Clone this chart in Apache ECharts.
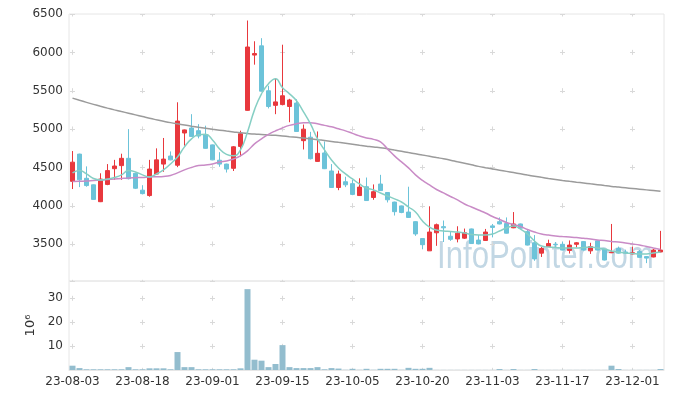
<!DOCTYPE html>
<html>
<head>
<meta charset="utf-8">
<script src="https://cdn.jsdelivr.net/npm/echarts@6/dist/echarts.min.js"></script>
<style>
  html, body { margin: 0; padding: 0; background: #fff; }
  #chart { width: 673px; height: 399px; }
</style>
</head>
<body>
<div id="chart"></div>
<script>
// 일자
var dates = [
    '23-08-03','23-08-04','23-08-07','23-08-08','23-08-09','23-08-10','23-08-11','23-08-14','23-08-16','23-08-17',
    '23-08-18','23-08-21','23-08-22','23-08-23','23-08-24','23-08-25','23-08-28','23-08-29','23-08-30','23-08-31',
    '23-09-01','23-09-04','23-09-05','23-09-06','23-09-07','23-09-08','23-09-11','23-09-12','23-09-13','23-09-14',
    '23-09-15','23-09-18','23-09-19','23-09-20','23-09-21','23-09-22','23-09-25','23-09-26','23-09-27','23-10-04',
    '23-10-05','23-10-06','23-10-10','23-10-11','23-10-12','23-10-13','23-10-16','23-10-17','23-10-18','23-10-19',
    '23-10-20','23-10-23','23-10-24','23-10-25','23-10-26','23-10-27','23-10-30','23-10-31','23-11-01','23-11-02',
    '23-11-03','23-11-06','23-11-07','23-11-08','23-11-09','23-11-10','23-11-13','23-11-14','23-11-15','23-11-16',
    '23-11-17','23-11-20','23-11-21','23-11-22','23-11-23','23-11-24','23-11-27','23-11-28','23-11-29','23-11-30',
    '23-12-01','23-12-04','23-12-05','23-12-06','23-12-07'
];

// 시가 / 종가 / 저가 / 고가
var opens = [
    4320,4675,4360,4275,4055,4280,4485,4525,4620,4425,
    4205,4135,4415,4545,4650,4530,4950,5015,4980,4930,
    4795,4595,4545,4490,4775,5245,5965,6085,5500,5310,
    5320,5295,5340,4850,4895,4580,4690,4455,4240,4315,
    4290,4135,4250,4110,4285,4175,4050,4000,3920,3795,
    3575,3415,3650,3730,3605,3570,3580,3700,3555,3550,
    3740,3795,3770,3715,3765,3665,3520,3385,3470,3500,
    3500,3420,3500,3535,3415,3545,3435,3390,3445,3400,
    3375,3405,3340,3335,3400
];
var closes = [
    4570,4340,4265,4085,4350,4460,4520,4620,4355,4230,
    4160,4480,4600,4610,4600,5105,4990,4905,4910,4750,
    4600,4545,4480,4770,4940,6070,5985,5495,5295,5355,
    5435,5380,4970,5000,4615,4685,4485,4240,4415,4275,
    4150,4245,4070,4185,4200,4080,3925,3915,3850,3635,
    3495,3660,3755,3715,3565,3645,3650,3510,3505,3660,
    3720,3765,3645,3765,3710,3490,3310,3445,3510,3495,
    3425,3490,3520,3425,3470,3425,3295,3400,3385,3385,
    3390,3330,3320,3425,3425
];
var lows = [
    4220,4245,4250,4080,4050,4270,4340,4340,4345,4220,
    4150,4120,4410,4445,4595,4505,4785,4900,4880,4745,
    4595,4510,4435,4455,4645,5240,5840,5490,5270,5195,
    5310,5090,4965,4735,4605,4575,4480,4235,4205,4245,
    4140,4130,4065,4080,4195,4045,3875,3905,3845,3610,
    3435,3415,3480,3530,3545,3525,3570,3505,3500,3545,
    3590,3760,3640,3710,3700,3485,3285,3335,3465,3450,
    3420,3380,3460,3420,3375,3420,3290,3385,3380,3375,
    3370,3325,3255,3330,3395
];
var highs = [
    4715,4680,4515,4280,4425,4545,4600,4680,5000,4430,
    4270,4600,4750,4885,4710,5350,4995,5195,5065,5045,
    4800,4700,4550,4780,4980,6415,6145,6185,5565,5660,
    6100,5395,5390,5060,4965,4970,4840,4545,4460,4380,
    4340,4360,4370,4280,4405,4180,4055,4005,4250,3800,
    3580,3995,3770,3810,3660,3735,3705,3705,3620,3700,
    3765,3850,3850,3920,3770,3695,3620,3465,3560,3530,
    3535,3550,3530,3540,3520,3550,3440,3765,3470,3430,
    3470,3425,3345,3440,3675
];

// 이동평균선
var ma5 = [
    4430,4462,4417,4358,4338,4351,4371,4404,4462,4443,
    4404,4378,4417,4469,4547,4638,4769,4873,4926,4932,
    4860,4743,4671,4652,4730,4964,5251,5460,5591,5656,
    5539,5460,5369,5225,5069,4873,4730,4599,4495,4417,
    4351,4286,4234,4208,4169,4130,4091,4051,3986,3921,
    3804,3725,3686,3673,3667,3660,3647,3627,3621,3621,
    3634,3673,3712,3738,3699,3634,3543,3477,3464,3458,
    3451,3451,3451,3458,3464,3451,3438,3412,3399,3386,
    3380,3373,3373,3386,3399
];
var ma20 = [
    4319,4322,4325,4332,4338,4345,4351,4358,4364,4368,
    4371,4378,4380,4384,4397,4430,4469,4501,4527,4534,
    4547,4573,4586,4612,4652,4717,4808,4873,4932,4978,
    5017,5049,5069,5082,5082,5069,5049,5030,5004,4978,
    4945,4912,4886,4867,4834,4743,4652,4573,4495,4404,
    4332,4273,4214,4169,4123,4078,4025,3986,3947,3908,
    3862,3823,3784,3758,3732,3693,3660,3634,3621,3608,
    3601,3595,3588,3578,3569,3556,3549,3536,3530,3517,
    3504,3491,3471,3451,3432
];
var ma120 = [
    5404,5376,5349,5323,5298,5274,5251,5229,5208,5186,
    5164,5142,5122,5103,5085,5069,5054,5039,5025,5012,
    4999,4987,4975,4964,4953,4944,4936,4930,4924,4919,
    4911,4902,4893,4884,4874,4863,4852,4840,4828,4816,
    4803,4790,4778,4766,4759,4744,4728,4712,4695,4679,
    4663,4647,4630,4614,4596,4575,4555,4535,4515,4498,
    4482,4466,4450,4434,4418,4402,4387,4372,4358,4345,
    4332,4320,4309,4299,4288,4277,4265,4254,4245,4236,
    4227,4218,4209,4200,4191
];

// 거래량 (10^6)
var volumes = [
    1.8,0.8,0.3,0.3,0.3,0.3,0.3,0.3,1.2,0.3,
    0.3,0.7,0.7,0.7,0.3,7.5,1.2,1.2,0.3,0.3,
    0.3,0.3,0.3,0.3,0.7,33.8,4.3,3.9,1.2,2.5,
    10.4,1.2,0.8,0.8,0.8,1.2,0.3,0.8,0.6,0.1,
    0.5,0.1,0.5,0.1,0.5,0.5,0.5,0.1,0.9,0.5,
    0.5,0.9,0.05,0.05,0.05,0.05,0.05,0.05,0.05,0.05,
    0.05,0.4,0.05,0.4,0.05,0.05,0.4,0.05,0.05,0.05,
    0.05,0.05,0.05,0.05,0.05,0.05,0.05,1.8,0.4,0.05,
    0.05,0.05,0.05,0.05,0.4
];

var candles = [];
for (var i = 0; i < dates.length; i++) {
    candles.push([opens[i], closes[i], lows[i], highs[i]]);
}

var labelStyle = {
    color: '#333',
    fontSize: 12,
    fontFamily: 'DejaVu Sans'
};
var crossColor = '#d9d9d9';
var plainNumber = function (v) { return String(v); };

var option = {
    backgroundColor: '#fff',
    animation: false,
    grid: [
        { left: 69, right: 9, top: 14, height: 267, show: true, borderColor: '#e6e6e6', borderWidth: 1 },
        { left: 69, right: 9, top: 281, height: 89, show: true, borderColor: '#e6e6e6', borderWidth: 1 }
    ],
    graphic: [{
        type: 'text',
        x: 437,
        y: 257,
        scaleX: 0.8,
        z: 0,
        silent: true,
        style: {
            text: 'InfoPointer.com',
            font: '39px "Liberation Sans"',
            fill: '#c2d7e4',
            textAlign: 'left',
            textVerticalAlign: 'middle'
        }
    }],
    xAxis: [
        {
            type: 'category',
            gridIndex: 0,
            data: dates,
            axisLine: { show: false },
            axisTick: { show: false, alignWithLabel: true, interval: 9 },
            axisLabel: { show: false, interval: 9 },
            splitLine: {
                show: true,
                interval: 9,
                alignWithLabel: true,
                lineStyle: { color: crossColor, type: [5, 33.33], dashOffset: 2.5 }
            }
        },
        {
            type: 'category',
            gridIndex: 1,
            data: dates,
            axisLine: { show: true, lineStyle: { color: '#e6e6e6' } },
            axisTick: { show: false, alignWithLabel: true, interval: 9 },
            axisLabel: Object.assign({ interval: 9, margin: 6 }, labelStyle),
            splitLine: {
                show: true,
                interval: 9,
                alignWithLabel: true,
                lineStyle: { color: crossColor, type: [5, 19], dashOffset: 9.2 }
            }
        }
    ],
    yAxis: [
        {
            type: 'value',
            gridIndex: 0,
            min: 3022,
            max: 6500,
            axisLine: { show: false },
            axisTick: { show: false },
            axisLabel: Object.assign({ margin: 6, showMinLabel: false, formatter: plainNumber }, labelStyle),
            splitLine: { lineStyle: { color: crossColor, type: [5, 65], dashOffset: 69 } }
        },
        {
            type: 'value',
            gridIndex: 1,
            min: 0,
            max: 37.2,
            interval: 10,
            name: '10⁶',
            nameLocation: 'middle',
            nameRotate: 90,
            nameGap: 31,
            nameTextStyle: { color: '#333', fontSize: 13, fontFamily: 'DejaVu Sans' },
            axisLine: { show: false },
            axisTick: { show: false },
            axisLabel: Object.assign({ margin: 6, showMinLabel: false, showMaxLabel: false, formatter: plainNumber }, labelStyle),
            splitLine: { lineStyle: { color: crossColor, type: [5, 65], dashOffset: 69 } }
        }
    ],
    series: [
        {
            name: '주가',
            type: 'candlestick',
            xAxisIndex: 0,
            yAxisIndex: 0,
            barWidth: 5,
            itemStyle: {
                color: '#e8383d',
                color0: '#6cc3d9',
                borderColor: '#e8383d',
                borderColor0: '#6cc3d9',
                borderWidth: 1
            },
            data: candles
        },
        {
            name: 'MA120',
            type: 'line',
            smooth: true,
            showSymbol: false,
            lineStyle: { color: '#9b9b9b', width: 1.5 },
            data: ma120
        },
        {
            name: 'MA20',
            type: 'line',
            smooth: true,
            showSymbol: false,
            lineStyle: { color: '#c98bc6', width: 1.5 },
            data: ma20
        },
        {
            name: 'MA5',
            type: 'line',
            smooth: true,
            showSymbol: false,
            lineStyle: { color: '#86cfc4', width: 1.5 },
            data: ma5
        },
        {
            name: '거래량',
            type: 'bar',
            xAxisIndex: 1,
            yAxisIndex: 1,
            barWidth: 6,
            itemStyle: { color: '#93bdce' },
            data: volumes
        }
    ]
};

var myChart = echarts.init(document.getElementById('chart'));
myChart.setOption(option);
</script>
</body>
</html>
